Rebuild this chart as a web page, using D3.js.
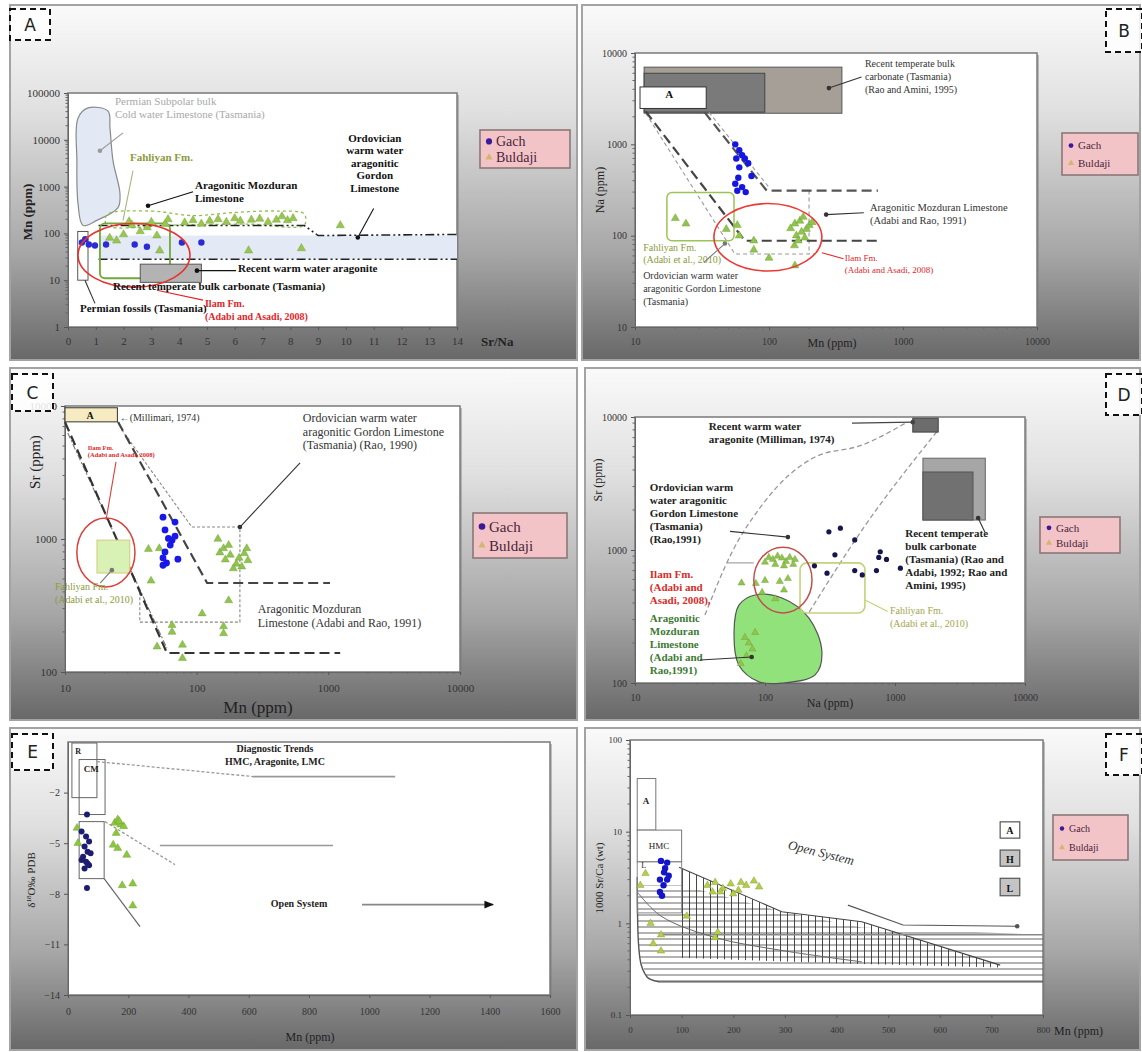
<!DOCTYPE html>
<html><head><meta charset="utf-8">
<script src="https://cdn.jsdelivr.net/npm/d3@7"></script>
<style>
body{margin:0;background:#fff;}
svg{display:block;font-family:"Liberation Serif","Times New Roman",serif;}
</style></head><body>
<svg id="fig" width="1142" height="1052" font-family="Liberation Serif, serif"></svg>
<script>
// ================= DATA =================
// Panel A : Sr/Na ratio vs Mn (ppm)
const srNaTicks = d3.range(0, 15);
const mnTicksA = [1, 10, 100, 1000, 10000, 100000];
const gachA = [[0.5,64],[0.62,75],[0.75,58],[0.97,55],[1.37,58],[2.4,58],[2.84,52],[4.1,64],[4.8,64]];
const buldajiA = [[1.5,80],[1.75,70],[2.0,95],[2.2,180],[2.3,150],[2.6,110],[2.85,134],[3.0,175],[3.2,90],[3.3,43],
  [3.5,160],[3.6,200],[4.2,170],[4.5,190],[4.8,160],[5.1,185],[5.4,200],[5.7,175],[6.0,210],[6.2,185],[6.5,43],
  [6.6,195],[6.9,205],[7.2,175],[7.5,195],[7.7,230],[7.9,190],[8.1,210],[8.4,48],[9.8,148]];
const permianSubpolarA = [[0.72,48000],[1.44,41000],[1.51,18000],[1.62,3550],[1.87,710],[1.8,355],[1.04,190],[0.54,148],[0.36,437],[0.32,3550],[0.36,29000]];
const gordonUpperA = [[1.1,148],[8.5,148],[9.0,90],[14,95]];
const gordonLowerA = [[1.1,28],[14,28]];
const blueBandA = {x:[1.1,14], y:[28,90]};
const mozduranOutlineA = [[1.4,250],[3,300],[4.5,240],[6,280],[7.5,300],[8.5,260],[8.5,150],[6.5,158],[4,152],[1.4,150]];
const fahliyanA = {x:[1.15,3.67], y:[11,163]};
const ilamA = {x:[0.36,4.39], y:[7.1,163]};
const temperateA = {x:[2.6,4.8], y:[9,22]};
const permianFossilsA = {x:[0.35,0.72], y:[10,110]};

// Panel B : Mn vs Na (ppm)
const logTicks4 = [10, 100, 1000, 10000];
const gachB = [[56,1000],[60,860],[63,760],[57,700],[66,700],[60,560],[59,430],[74,450],[56,370],[63,340],[67,300],[58,310],[70,620]];
const buldajiB = [[24,135],[20,155],[58,130],[60,100],[77,88],[77,70],[100,57],[156,135],[170,145],[190,118],[160,100],
  [155,78],[156,47],[180,160],[200,130],[175,110],[165,88],[185,95],[145,120],[210,140],[48,118]];
const temperateOuterB = {x:[11.7,350], y:[2190,7000]};
const temperateInnerB = {x:[11.7,93], y:[2250,6000]};
const aragoniteB = {x:[10.9,34], y:[2470,4250]};
const trendHeavy1B = [[12,2300],[66,88],[650,88]];
const trendHeavy2B = [[33,2250],[96,312],[650,312]];
const trendThin1B = [[12,2200],[55.7,63],[220,63]];
const trendThin2B = [[35.6,2250],[100,338]];
const trendVertB = [[199,312],[199,63]];
const fahliyanB = {x:[17.3,54.8], y:[88,296]};
const ilamB = {x:[38.8,248], y:[41,225]};

// Panel C : Mn vs Sr (ppm)
const srTicksC = [100, 1000, 10000];
const gachC = [[55.5,1460],[68.5,1340],[57.5,1170],[65,980],[61,1010],[63,900],[57.5,800],[55.5,720],[59,660],[72,705],[55.5,635],[68.5,1050]];
const buldajiC = [[150,790],[165,700],[180,760],[200,650],[210,720],[230,780],[245,690],[190,600],[220,620],[160,850],
  [175,900],[240,850],[145,1000],[43,840],[52,850],[45,485],[110,275],[175,345],[65,200],[65,225],[78,127],[78,160],[50,155],[160,195],[160,220]];
const aragoniteC = {x:[10,25], y:[7600,9700]};
const trendHeavy1C = [[10,7570],[59.4,139],[1230,139]];
const trendHeavy2C = [[25.3,7570],[120,467],[1030,467]];
const trendThin1C = [[10.5,6260],[59.4,151]];
const gordonC = [[27,6620],[92,1230],[213,1230],[213,237],[37,237],[37,400]];
const ilamC = {x:[12.3,34], y:[436,1440]};
const fahliyanC = {x:[17.5,31], y:[555,980]};

// Panel D : Na vs Sr (ppm)
const gachD = [[310,1370],[380,1460],[490,1190],[345,920],[300,670],[240,760],[770,970],[750,880],[860,850],[1100,730],[720,700],[490,700],[560,650]];
const buldajiD = [[107,880],[115,850],[125,900],[135,870],[145,820],[155,880],[165,780],[170,850],[120,780],[100,810],[140,760],
  [66,565],[85,560],[100,590],[130,580],[150,610],[95,480],[140,500],[120,430],[70,220],[75,200],[80,180],[72,160],[84,240],[65,140]];
const warmAragoniteD = {x:[1370,2150], y:[7700,9800]};
const temperateOuterD = {x:[1640,4950], y:[1680,4900]};
const temperateInnerD = {x:[1640,3980], y:[1680,3860]};
const trendCurve1D = [[34.5,324],[55.8,965],[95,2180],[153,3660],[243,5000],[557,6150],[1240,9150]];
const trendCurve2D = [[219,342],[557,1410],[2150,7990]];
const ilamD = {x:[82,230], y:[336,1050]};
const mozduranD = [[83.8,459],[135,436],[218,308],[274,171],[243,115],[135,100],[90,102],[63,136],[57.8,242],[63,385]];
const fahliyanD = {x:[186,587], y:[336,800]};

// Panel E : Mn (ppm) vs delta 18O
const mnTicksE = d3.range(0, 1601, 200);
const d18OTicks = [-2, -5, -8, -11, -14];
const gachE = [[63,-3.3],[45,-4.3],[60,-4.6],[70,-4.9],[55,-5.2],[65,-5.5],[50,-5.8],[75,-5.6],[60,-6.1],[45,-6.0],[70,-6.3],[55,-6.5],[65,-6.2],[63,-7.65]];
const buldajiE = [[30,-4.1],[155,-3.8],[165,-3.6],[175,-3.9],[185,-4.0],[160,-4.4],[150,-5.1],[165,-5.3],[195,-5.7],[180,-7.5],[215,-7.4],[215,-8.7],[33,-5.0],[170,-3.7]];
const boxRE = {x:[13,96], y:[-2.3,0.94]};
const boxCME = {x:[37,123], y:[-3.3,-0.04]};
const boxLowE = {x:[37,120], y:[-7.1,-3.72]};

// Panel F : Mn (ppm) vs 1000 Sr/Ca
const mnTicksF = d3.range(0, 801, 100);
const srCaTicks = [0.1, 1, 10, 100];
const gachF = [[60,4.8],[72,4.6],[68,4.0],[58,3.0],[72,3.0],[65,2.6],[58,2.2],[62,2.0],[75,3.3],[66,3.6]];
const buldajiF = [[150,2.6],[165,2.8],[180,2.4],[195,2.7],[210,2.3],[225,2.6],[240,2.9],[250,2.5],[200,2.1],[175,2.2],[215,2.8],
  [160,2.2],[20,2.6],[30,3.5],[40,1.0],[60,0.75],[45,0.6],[60,0.5],[165,0.7],[170,0.8],[110,1.2]];
const boxAF = {x:[14,50], y:[10.4,38]};
const boxHMCF = {x:[14,100], y:[4.7,10.4]};
const boxLF = {x:[14,100], y:[1.3,4.7]};
const vHatchF = [[95,4.1],[294,1.34],[449,1.04],[717,0.35],[717,0.33],[449,0.36],[95,0.42]];
const hHatchF = [[14,2.6],[100,2.6],[294,1.34],[449,0.9],[800,0.75],[800,0.23],[56,0.23],[33,0.26],[19,0.42],[15,0.95]];
const boundaryF = [[14,3.2],[15,0.95],[19,0.42],[33,0.26],[56,0.23],[800,0.23]];
const lowerCurveF = [[14,2.2],[60,1.2],[165,0.7],[300,0.5],[449,0.38]];
const openArrowF = [[422,1.58],[529,0.96],[750,0.93]];

// ================= DRAWING =================
const svg = d3.select("#fig");
const defs = svg.append("defs");
const grad = defs.append("linearGradient").attr("id","bg").attr("x1",0).attr("y1",0).attr("x2",0).attr("y2",1);
[[0,"#fafafa"],[0.3,"#e0e0e0"],[0.7,"#a6a6a6"],[1,"#686868"]].forEach(([o,c]) => grad.append("stop").attr("offset",o).attr("stop-color",c));
const vp = defs.append("pattern").attr("id","vhatch").attr("patternUnits","userSpaceOnUse").attr("width",7).attr("height",10);
vp.append("line").attr("x1",3.5).attr("x2",3.5).attr("y1",0).attr("y2",10).attr("stroke","#333").attr("stroke-width",0.9);
const hp = defs.append("pattern").attr("id","hhatch").attr("patternUnits","userSpaceOnUse").attr("width",10).attr("height",6);
hp.append("line").attr("x1",0).attr("x2",10).attr("y1",3).attr("y2",3).attr("stroke","#555").attr("stroke-width",0.9);
defs.append("marker").attr("id","arrow").attr("viewBox","0 0 10 10").attr("refX",9).attr("refY",5)
  .attr("markerWidth",6).attr("markerHeight",6).attr("orient","auto")
  .append("path").attr("d","M0,1L10,5L0,9Z").attr("fill","#111");

function styleIt(sel, st){ for (const k in st) sel.attr(k, st[k]); return sel; }

function panel(cfg){
  const [fx,fy,fw,fh] = cfg.frame, [px,py,pw,ph] = cfg.plot;
  const g = svg.append("g").attr("font-family","Liberation Serif, serif");
  g.append("rect").attr("x",fx).attr("y",fy).attr("width",fw).attr("height",fh)
    .attr("fill","url(#bg)").attr("stroke","#a3a3a3").attr("stroke-width",2);
  g.append("rect").attr("x",px+2).attr("y",py+2).attr("width",pw).attr("height",ph).attr("fill","#7d7d7d").attr("opacity",0.45);
  g.append("rect").attr("x",px).attr("y",py).attr("width",pw).attr("height",ph)
    .attr("fill","#fff").attr("stroke","#7a7a7a").attr("stroke-width",1.5);
  const x = (cfg.xLog ? d3.scaleLog() : d3.scaleLinear()).domain(cfg.xDomain).range([px, px+pw]);
  const y = (cfg.yLog ? d3.scaleLog() : d3.scaleLinear()).domain(cfg.yDomain).range([py+ph, py]);
  const fs = cfg.tickFont;
  const ax = g.append("g").attr("transform",`translate(0,${py+ph})`)
    .call(d3.axisBottom(x).tickValues(cfg.xTicks).tickFormat(cfg.xFmt).tickSize(3).tickSizeOuter(0).tickPadding(cfg.xPad || 6));
  const ay = g.append("g").attr("transform",`translate(${px},0)`)
    .call(d3.axisLeft(y).tickValues(cfg.yTicks).tickFormat(cfg.yFmt).tickSize(4).tickSizeOuter(0).tickPadding(4));
  [ax, ay].forEach(a => {
    a.attr("font-family","Liberation Serif, serif");
    a.select(".domain").attr("stroke","#666");
    a.selectAll(".tick line").attr("stroke","#555");
    a.selectAll("text").attr("fill","#333").attr("font-size",fs);
  });
  if (cfg.xLog) {
    const minor = x.ticks().filter(v => !cfg.xTicks.includes(v));
    g.append("g").selectAll("line").data(minor).join("line")
      .attr("x1",d=>x(d)).attr("x2",d=>x(d)).attr("y1",py+ph).attr("y2",py+ph+2).attr("stroke","#666");
  }
  if (cfg.yLog) {
    const minor = y.ticks().filter(v => !cfg.yTicks.includes(v));
    g.append("g").selectAll("line").data(minor).join("line")
      .attr("y1",d=>y(d)).attr("y2",d=>y(d)).attr("x1",px).attr("x2",px-2.5).attr("stroke","#666");
  }
  // axis titles
  g.append("text").attr("x",cfg.xTitle.at[0]).attr("y",cfg.xTitle.at[1]).attr("text-anchor",cfg.xTitle.anchor||"middle")
    .attr("font-size",cfg.xTitle.size).attr("font-weight",cfg.xTitle.weight||"normal").attr("fill","#222").text(cfg.xTitle.text);
  const yt = g.append("text").attr("transform",`translate(${cfg.yTitle.at[0]},${cfg.yTitle.at[1]}) rotate(-90)`)
    .attr("text-anchor","middle").attr("font-size",cfg.yTitle.size).attr("font-weight",cfg.yTitle.weight||"normal").attr("fill","#222");
  if (cfg.yTitle.parts) cfg.yTitle.parts.forEach(p => {
    const t = yt.append("tspan").text(p[0]);
    if (p[1]) t.attr("baseline-shift","super").attr("font-size",cfg.yTitle.size*0.65);
  });
  else yt.text(cfg.yTitle.text);
  // panel letter
  const [lx,ly,lw,lh] = cfg.letterBox;
  g.append("rect").attr("x",lx).attr("y",ly).attr("width",lw).attr("height",lh).attr("fill","#fff").attr("fill-opacity",0.85)
    .attr("stroke","#111").attr("stroke-width",2).attr("stroke-dasharray","6,4");
  g.append("text").attr("x",lx+lw/2).attr("y",ly+lh/2+6).attr("text-anchor","middle").attr("font-family","DejaVu Sans")
    .attr("font-size",17).attr("fill","#222").text(cfg.letter);
  if (cfg.legend) legend(g, cfg.legend);
  return {g, x, y};
}

function legend(g, L){
  const [x,y,w,h,fs] = L;
  g.append("rect").attr("x",x).attr("y",y).attr("width",w).attr("height",h).attr("fill","#f2c4c8").attr("stroke","#8a7878").attr("stroke-width",1.6);
  g.append("circle").attr("cx",x+9).attr("cy",y+h*0.3).attr("r",fs*0.22).attr("fill","#3a1a9a");
  g.append("text").attr("x",x+16).attr("y",y+h*0.3+fs*0.35).attr("font-size",fs).attr("fill","#4b2438").text("Gach");
  g.append("path").attr("d",d3.symbol(d3.symbolTriangle).size(fs*1.6)()).attr("transform",`translate(${x+9},${y+h*0.72})`).attr("fill","#d6b66c");
  g.append("text").attr("x",x+16).attr("y",y+h*0.72+fs*0.35).attr("font-size",fs).attr("fill","#4b2438").text("Buldaji");
}

function box(P, b, st){
  const x0=P.x(b.x[0]), x1=P.x(b.x[1]), y0=P.y(b.y[1]), y1=P.y(b.y[0]);
  return styleIt(P.g.append("rect").attr("x",x0).attr("y",y0).attr("width",x1-x0).attr("height",y1-y0), st);
}
function ellipse(P, b, st){
  const x0=P.x(b.x[0]), x1=P.x(b.x[1]), y0=P.y(b.y[1]), y1=P.y(b.y[0]);
  return styleIt(P.g.append("ellipse").attr("cx",(x0+x1)/2).attr("cy",(y0+y1)/2).attr("rx",(x1-x0)/2).attr("ry",(y1-y0)/2), st);
}
function path(P, pts, st, curve){
  const ln = d3.line().x(d=>P.x(d[0])).y(d=>P.y(d[1])).curve(curve || d3.curveLinear);
  return styleIt(P.g.append("path").attr("d",ln(pts)).attr("fill","none"), st);
}
function pointer(P, pts, color, dot){
  path(P, pts, {stroke:color, "stroke-width":1.1});
  if (dot) { const e = pts[pts.length-1]; P.g.append("circle").attr("cx",P.x(e[0])).attr("cy",P.y(e[1])).attr("r",2.3).attr("fill",color); }
}
function note(P, lines, at, st, lh){
  const t = styleIt(P.g.append("text").attr("x",P.x(at[0])).attr("y",P.y(at[1])), st);
  lines.forEach((s,i) => t.append("tspan").attr("x",P.x(at[0])).attr("dy", i ? lh : 0).text(s));
  return t;
}
function points(P, data, kind, color, size){
  if (kind === "dot") P.g.append("g").selectAll("circle").data(data).join("circle")
    .attr("cx",d=>P.x(d[0])).attr("cy",d=>P.y(d[1])).attr("r",size).attr("fill",color);
  else P.g.append("g").selectAll("path").data(data).join("path")
    .attr("d",d3.symbol(d3.symbolTriangle).size(size)()).attr("transform",d=>`translate(${P.x(d[0])},${P.y(d[1])})`)
    .attr("fill",color).attr("stroke","#6f9a2a").attr("stroke-width",0.4);
}
const fmtInt = d3.format("d");
const RED = "#e0262b", OLIVE = "#8c9a3c";

// ---------------- Panel A ----------------
{
  const P = panel({frame:[10,5,567,355], plot:[68,93,389,234], xDomain:[0,14], yLog:true, yDomain:[1,100000],
    xTicks:srNaTicks, yTicks:mnTicksA, xFmt:fmtInt, yFmt:fmtInt, tickFont:11, xPad:7,
    xTitle:{text:"Sr/Na", at:[481,346], anchor:"start", size:13, weight:"bold"},
    yTitle:{text:"Mn (ppm)", at:[32,212], size:13, weight:"bold"},
    letterBox:[10,9,40,31], letter:"A", legend:[480,130,90,38,14]});
  box(P, blueBandA, {fill:"#e3eaf6"});
  path(P, permianSubpolarA, {fill:"#e2e9f4", stroke:"#8a8a8a", "stroke-width":1.2}, d3.curveCatmullRomClosed);
  path(P, mozduranOutlineA, {stroke:"#8cc04a", "stroke-width":1.3, "stroke-dasharray":"3,3"}, d3.curveCatmullRomClosed);
  path(P, gordonUpperA, {stroke:"#222", "stroke-width":1.6, "stroke-dasharray":"9,3,2,3,2,3"});
  path(P, gordonLowerA, {stroke:"#222", "stroke-width":1.6, "stroke-dasharray":"9,3,2,3,2,3"});
  box(P, fahliyanA, {fill:"none", stroke:"#72a83a", "stroke-width":1.8, rx:5});
  box(P, temperateA, {fill:"#b3b3b3", stroke:"#555", "stroke-width":1});
  box(P, permianFossilsA, {fill:"none", stroke:"#555", "stroke-width":1});
  points(P, buldajiA, "tri", "#97c653", 30);
  points(P, gachA, "dot", "#2b2bd6", 3.2);
  ellipse(P, ilamA, {fill:"none", stroke:"#e8332d", "stroke-width":1.6});
  note(P, ["Permian Subpolar bulk","Cold water Limestone (Tasmania)"], [1.69,55600], {"font-size":11, fill:"#a8a8a8"}, 13);
  pointer(P, [[1.98,14100],[1.15,5850]], "#9a9a9a", true);
  note(P, ["Fahliyan Fm."], [2.23,3540], {"font-size":11, fill:OLIVE, "font-weight":"bold"}, 12);
  pointer(P, [[2.34,2190],[1.98,190]], "#a9b77a", false);
  note(P, ["Aragonitic Mozduran","Limestone"], [4.57,906], {"font-size":11, "font-weight":"bold", fill:"#111"}, 13);
  pointer(P, [[4.5,780],[2.88,390]], "#111", true);
  note(P, ["Ordovician","warm water","aragonitic","Gordon","Limestone"], [11.04,9100], {"font-size":11, "font-weight":"bold", fill:"#111", "text-anchor":"middle"}, 12.5);
  pointer(P, [[11.0,340],[10.43,82]], "#111", true);
  note(P, ["Recent warm water aragonite"], [6.12,14.8], {"font-size":11, "font-weight":"bold", fill:"#111"}, 12);
  pointer(P, [[6.05,16],[4.64,16]], "#111", true);
  note(P, ["Recent temperate bulk carbonate (Tasmania)"], [1.62,6.1], {"font-size":11, "font-weight":"bold", fill:"#111"}, 12);
  note(P, ["Ilam Fm.","(Adabi and Asadi, 2008)"], [4.93,2.66], {"font-size":10, "font-weight":"bold", fill:RED}, 12.5);
  pointer(P, [[3.2,6.1],[4.86,3.75]], RED, false);
  note(P, ["Permian fossils (Tasmania)"], [0.43,2.08], {"font-size":11, "font-weight":"bold", fill:"#111"}, 12);
  pointer(P, [[0.61,10],[0.97,3.2]], "#333", false);
}

// ---------------- Panel B ----------------
{
  const P = panel({frame:[582,5,558,355], plot:[635,53,402,274], xLog:true, xDomain:[10,10000], yLog:true, yDomain:[10,10000],
    xTicks:logTicks4, yTicks:logTicks4, xFmt:fmtInt, yFmt:fmtInt, tickFont:10, xPad:8,
    xTitle:{text:"Mn (ppm)", at:[832,347], size:12},
    yTitle:{text:"Na (ppm)", at:[604,190], size:12},
    letterBox:[1106,9,36,43], letter:"B", legend:[1062,133,76,42,11]});
  box(P, temperateOuterB, {fill:"#a59f98", stroke:"#555", "stroke-width":1});
  box(P, temperateInnerB, {fill:"#7a7a7a", stroke:"#444", "stroke-width":1});
  box(P, aragoniteB, {fill:"#fff", stroke:"#333", "stroke-width":1});
  note(P, ["A"], [18,3200], {"font-size":11, "font-weight":"bold", fill:"#111", "text-anchor":"middle"}, 12);
  path(P, trendThin1B, {stroke:"#999", "stroke-width":1.1, "stroke-dasharray":"4,3"});
  path(P, trendThin2B, {stroke:"#999", "stroke-width":1.1, "stroke-dasharray":"4,3"});
  path(P, trendVertB, {stroke:"#999", "stroke-width":1.1, "stroke-dasharray":"4,3"});
  path(P, trendHeavy1B, {stroke:"#444", "stroke-width":2.2, "stroke-dasharray":"10,5"});
  path(P, trendHeavy2B, {stroke:"#555", "stroke-width":2.2, "stroke-dasharray":"10,5"});
  box(P, fahliyanB, {fill:"none", stroke:"#9cc455", "stroke-width":1.5, rx:5});
  points(P, buldajiB, "tri", "#8fc450", 28);
  points(P, gachB, "dot", "#1616e0", 3.2);
  ellipse(P, ilamB, {fill:"none", stroke:"#ea3a34", "stroke-width":1.6});
  note(P, ["Recent temperate bulk","carbonate (Tasmania)","(Rao and Amini, 1995)"], [520,7020], {"font-size":10, fill:"#333"}, 13);
  pointer(P, [[490,5450],[280,4130]], "#333", true);
  note(P, ["Aragonitic Mozduran Limestone","(Adabi and Rao, 1991)"], [567,184], {"font-size":10.5, fill:"#333"}, 13);
  pointer(P, [[510,178],[267,170]], "#333", true);
  note(P, ["Ilam Fm.","(Adabi and Asadi, 2008)"], [368,53.1], {"font-size":9, fill:RED}, 12);
  pointer(P, [[360,56],[248,65]], RED, false);
  note(P, ["Fahliyan Fm.","(Adabi et al., 2010)"], [11.5,68.5], {"font-size":10, fill:OLIVE}, 12);
  pointer(P, [[32.7,51],[46.9,82]], "#777", true);
  note(P, ["Ordovician warm water","aragonitic Gordon Limestone","(Tasmania)"], [11.5,33.7], {"font-size":10, fill:"#333"}, 13);
}

// ---------------- Panel C ----------------
{
  const P = panel({frame:[10,368,567,352], plot:[65,406,395,266], xLog:true, xDomain:[10,10000], yLog:true, yDomain:[100,10000],
    xTicks:logTicks4, yTicks:srTicksC, xFmt:fmtInt, yFmt:fmtInt, tickFont:11, xPad:9,
    xTitle:{text:"Mn (ppm)", at:[258,713], size:17},
    yTitle:{text:"Sr (ppm)", at:[40,462], size:15},
    letterBox:[12,374,41,37], letter:"C", legend:[473,513,94,45,15]});
  box(P, aragoniteC, {fill:"#f7ebc2", stroke:"#333", "stroke-width":1});
  note(P, ["A"], [15.5,8000], {"font-size":10, "font-weight":"bold", fill:"#111", "text-anchor":"middle"}, 12);
  note(P, ["\u2190(Millimari, 1974)"], [26,7700], {"font-size":10, fill:"#333"}, 12);
  path(P, trendThin1C, {stroke:"#777", "stroke-width":1.1, "stroke-dasharray":"6,2,2,2"});
  path(P, gordonC, {stroke:"#888", "stroke-width":1.1, "stroke-dasharray":"3,2"});
  path(P, trendHeavy1C, {stroke:"#333", "stroke-width":2.2, "stroke-dasharray":"10,5"});
  path(P, trendHeavy2C, {stroke:"#444", "stroke-width":2.2, "stroke-dasharray":"10,5"});
  box(P, fahliyanC, {fill:"#d7f2b4", stroke:"#d8cf8a", "stroke-width":1.2});
  ellipse(P, ilamC, {fill:"none", stroke:"#d9403a", "stroke-width":1.5});
  points(P, buldajiC, "tri", "#8fc450", 28);
  points(P, gachC, "dot", "#1818e8", 3.4);
  note(P, ["Ilam Fm.","(Adabi and Asadi, 2008)"], [14.9,4650], {"font-size":6.5, "font-weight":"bold", fill:RED}, 7);
  pointer(P, [[24.4,3800],[20.5,1390]], "#d9403a", false);
  note(P, ["Fahliyan Fm.","(Adabi et al., 2010)"], [8.4,414], {"font-size":10, fill:OLIVE}, 13);
  pointer(P, [[18.5,466],[22.7,583]], "#777", true);
  note(P, ["Ordovician warm water","aragonitic Gordon Limestone","(Tasmania) (Rao, 1990)"], [640,7570], {"font-size":12, fill:"#333"}, 13.5);
  pointer(P, [[610,3730],[213,1230]], "#333", true);
  note(P, ["Aragonitic Mozduran","Limestone (Adabi and Rao, 1991)"], [291,278], {"font-size":12, fill:"#333"}, 14);
}

// ---------------- Panel D ----------------
{
  const P = panel({frame:[585,368,555,352], plot:[635,417,390,266], xLog:true, xDomain:[10,10000], yLog:true, yDomain:[100,10000],
    xTicks:logTicks4, yTicks:srTicksC, xFmt:fmtInt, yFmt:fmtInt, tickFont:10, xPad:8,
    xTitle:{text:"Na (ppm)", at:[830,707], size:12},
    yTitle:{text:"Sr (ppm)", at:[602,480], size:12},
    letterBox:[1106,374,36,41], letter:"D", legend:[1040,517,80,36,11]});
  path(P, trendCurve1D, {stroke:"#999", "stroke-width":1.3, "stroke-dasharray":"5,3"}, d3.curveMonotoneX);
  path(P, trendCurve2D, {stroke:"#999", "stroke-width":1.3, "stroke-dasharray":"5,3"}, d3.curveMonotoneX);
  box(P, warmAragoniteD, {fill:"#6c6c6c", stroke:"#444", "stroke-width":1});
  box(P, temperateOuterD, {fill:"#a6a6a6", stroke:"#666", "stroke-width":1});
  box(P, temperateInnerD, {fill:"#717171", stroke:"#555", "stroke-width":1});
  path(P, mozduranD, {fill:"#92e27c", stroke:"#555", "stroke-width":1.2}, d3.curveCatmullRomClosed);
  box(P, fahliyanD, {fill:"none", stroke:"#c5d17a", "stroke-width":1.6, rx:7});
  points(P, buldajiD, "tri", "#8fc450", 22);
  ellipse(P, ilamD, {fill:"none", stroke:"#c0504d", "stroke-width":1.5});
  points(P, gachD, "dot", "#15154f", 2.6);
  note(P, ["Recent warm water","aragonite  (Milliman, 1974)"], [37,7990], {"font-size":11, "font-weight":"bold", fill:"#222"}, 13);
  pointer(P, [[467,9000],[1370,9150]], "#444", true);
  note(P, ["Ordovician warm","water aragonitic","Gordon Limestone","(Tasmania)","(Rao,1991)"], [13,2780], {"font-size":11, "font-weight":"bold", fill:"#222"}, 13);
  pointer(P, [[53.8,1380],[150,1250]], "#333", true);
  note(P, ["Ilam Fm.","(Adabi and","Asadi, 2008),"], [13,615], {"font-size":11, "font-weight":"bold", fill:"#d62d28"}, 13);
  pointer(P, [[51,800],[82,800]], "#999", false);
  note(P, ["Aragonitic","Mozduran","Limestone","(Adabi and","Rao,1991)"], [13,288], {"font-size":11, "font-weight":"bold", fill:"#3d7a34"}, 13);
  pointer(P, [[31.6,149],[79,157]], "#333", true);
  note(P, ["Recent temperate","bulk carbonate","(Tasmania) (Rao and","Adabi, 1992; Rao and","Amini, 1995)"], [1200,1250], {"font-size":11, "font-weight":"bold", fill:"#222"}, 13);
  pointer(P, [[4920,1360],[4360,1740]], "#333", true);
  note(P, ["Fahliyan Fm.","(Adabi et al., 2010)"], [915,330], {"font-size":10, fill:"#a3a64a"}, 13);
  pointer(P, [[880,345],[587,421]], "#c5d17a", false);
}

// ---------------- Panel E ----------------
{
  const P = panel({frame:[10,728,567,322], plot:[68,742,482,253], xDomain:[0,1600], yDomain:[-14,1],
    xTicks:mnTicksE, yTicks:d18OTicks, xFmt:fmtInt, yFmt:d3.format("d"), tickFont:10, xPad:10,
    xTitle:{text:"Mn (ppm)", at:[310,1041], size:12},
    yTitle:{parts:[["\u03b4"],["18",true],["O\u2030 PDB"]], at:[35,880], size:11},
    letterBox:[12,734,41,36], letter:"E"});
  box(P, boxRE, {fill:"none", stroke:"#666", "stroke-width":1});
  box(P, boxCME, {fill:"none", stroke:"#666", "stroke-width":1});
  box(P, boxLowE, {fill:"none", stroke:"#666", "stroke-width":1});
  note(P, ["R"], [24,0.3], {"font-size":8, "font-weight":"bold", fill:"#222"}, 10);
  note(P, ["CM"], [52,-0.75], {"font-size":9, "font-weight":"bold", fill:"#222"}, 10);
  path(P, [[96,-0.16],[614,-1.05]], {stroke:"#999", "stroke-width":1.3, "stroke-dasharray":"3,2"});
  path(P, [[614,-1.05],[1086,-1.05]], {stroke:"#999", "stroke-width":1.6});
  note(P, ["Diagnostic Trends","HMC, Aragonite, LMC"], [687,0.43], {"font-size":10, "font-weight":"bold", fill:"#222", "text-anchor":"middle"}, 13);
  path(P, [[123,-3.72],[355,-6.27]], {stroke:"#999", "stroke-width":1.3, "stroke-dasharray":"3,2"});
  path(P, [[305,-5.14],[880,-5.14]], {stroke:"#999", "stroke-width":1.6});
  path(P, [[120,-7.1],[239,-9.94]], {stroke:"#666", "stroke-width":1.2});
  note(P, ["Open System"], [767,-8.8], {"font-size":10, "font-weight":"bold", fill:"#222", "text-anchor":"middle"}, 12);
  path(P, [[976,-8.64],[1411,-8.64]], {stroke:"#888", "stroke-width":1.6, "marker-end":"url(#arrow)"});
  points(P, buldajiE, "tri", "#8cc63f", 28);
  points(P, gachE, "dot", "#1c1c72", 3);
}

// ---------------- Panel F ----------------
{
  const P = panel({frame:[585,728,555,322], plot:[630,740,413,275], xDomain:[0,800], yLog:true, yDomain:[0.1,100],
    xTicks:mnTicksF, yTicks:srCaTicks, xFmt:fmtInt, yFmt:d => d < 1 ? "0.1" : fmtInt(d), tickFont:9, xPad:9,
    xTitle:{text:"Mn (ppm)", at:[1054,1035], anchor:"start", size:12},
    yTitle:{text:"1000 Sr/Ca (wt)", at:[603,878], size:11},
    letterBox:[1106,734,36,41], letter:"F", legend:[1053,815,75,45,10]});
  path(P, hHatchF, {fill:"url(#hhatch)", stroke:"none"});
  path(P, vHatchF, {fill:"url(#vhatch)", stroke:"none"});
  path(P, [[95,4.1],[294,1.34],[449,1.04],[717,0.35]], {stroke:"#444", "stroke-width":1.1});
  path(P, boundaryF, {stroke:"#555", "stroke-width":1.4}, d3.curveMonotoneY);
  path(P, [[56,0.75],[800,0.75]], {stroke:"#888", "stroke-width":1.4});
  path(P, lowerCurveF, {stroke:"#666", "stroke-width":1}, d3.curveCatmullRom);
  box(P, boxAF, {fill:"#fff", stroke:"#777", "stroke-width":1});
  box(P, boxLF, {fill:"none", stroke:"#888", "stroke-width":1});
  box(P, boxHMCF, {fill:"#fff", stroke:"#777", "stroke-width":1});
  note(P, ["A"], [31,20], {"font-size":9, "font-weight":"bold", fill:"#222", "text-anchor":"middle"}, 10);
  note(P, ["HMC"], [56,6.4], {"font-size":9, fill:"#222", "text-anchor":"middle"}, 10);
  note(P, ["L"], [22,4.0], {"font-size":8, fill:"#222"}, 10);
  pointer(P, openArrowF, "#555", true);
  P.g.append("text").attr("transform",`translate(${P.x(368)},${P.y(5.3)}) rotate(14)`).attr("text-anchor","middle")
    .attr("font-size",13).attr("font-style","italic").attr("fill","#333").text("Open System");
  box(P, {x:[717,755], y:[8.5,12.8]}, {fill:"#fff", stroke:"#555", "stroke-width":1.2});
  box(P, {x:[717,755], y:[4.2,6.3]}, {fill:"#c4c4c4", stroke:"#555", "stroke-width":1.2});
  box(P, {x:[717,755], y:[2.0,3.1]}, {fill:"#c4c4c4", stroke:"#555", "stroke-width":1.2});
  note(P, ["A"], [736,9.4], {"font-size":10, "font-weight":"bold", fill:"#111", "text-anchor":"middle"}, 10);
  note(P, ["H"], [736,4.6], {"font-size":10, "font-weight":"bold", fill:"#111", "text-anchor":"middle"}, 10);
  note(P, ["L"], [736,2.2], {"font-size":10, "font-weight":"bold", fill:"#111", "text-anchor":"middle"}, 10);
  points(P, buldajiF, "tri", "#b8cc4c", 24);
  points(P, gachF, "dot", "#1515c8", 3.2);
}
</script>
</body></html>
